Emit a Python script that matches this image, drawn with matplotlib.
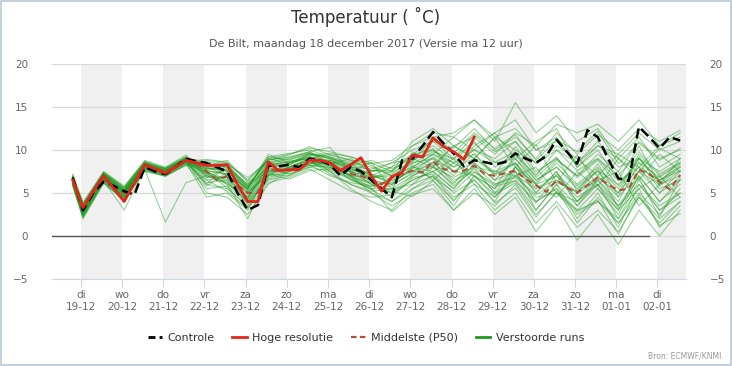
import numpy as np
import matplotlib.pyplot as plt
from matplotlib.lines import Line2D
from matplotlib.patches import Rectangle

# tijden in dagen vanaf 19-12 00:00
dagen = ['di', 'wo', 'do', 'vr', 'za', 'zo', 'ma', 'di', 'wo', 'do', 'vr', 'za', 'zo', 'ma', 'di']
datums = ['19-12', '20-12', '21-12', '22-12', '23-12', '24-12', '25-12', '26-12',
          '27-12', '28-12', '29-12', '30-12', '31-12', '01-01', '02-01']

t6 = [-0.2 + 0.25 * k for k in range(60)]          # 6-uurlijks
t12 = [-0.2] + [0.05 + 0.5 * k for k in range(30)]  # 12-uurlijks (pluim)

hoge_resolutie = [6.5, 3.3, 5.2, 7.0, 5.5, 4.0, 6.2, 8.3, 7.8, 7.3,
                  8.0, 8.8, 8.5, 8.2, 8.2, 8.3, 6.0, 4.0, 4.0, 8.6,
                  7.6, 7.7, 7.7, 8.8, 8.8, 8.5, 7.6, 8.3, 9.1, 7.0,
                  5.2, 6.9, 7.4, 9.4, 9.2, 11.4, 10.4, 9.8, 8.9, 11.5]

controle = [6.8, 3.0, 5.0, 6.3, 5.8, 5.2, 4.8, 8.0, 7.5, 7.2,
            8.0, 9.0, 8.7, 8.5, 8.0, 7.5, 5.0, 3.0, 3.6, 8.2,
            8.1, 8.3, 8.0, 9.0, 8.8, 8.3, 7.0, 8.0, 7.5, 6.5,
            5.5, 4.5, 8.8, 9.0, 10.5, 12.1, 10.8, 9.6, 8.1, 8.8,
            8.6, 8.3, 8.6, 9.6, 9.0, 8.5, 9.3, 11.2, 9.8, 8.4,
            12.3, 11.5, 9.0, 6.7, 6.4, 12.7, 11.5, 10.2, 11.5, 11.1]

p50 = [6.5, 3.0, 5.0, 6.8, 5.5, 5.0, 6.0, 8.2, 7.8, 7.5,
       8.2, 8.8, 8.5, 7.5, 6.5, 7.0, 6.0, 5.0, 5.0, 7.8,
       7.5, 7.8, 8.0, 8.5, 8.8, 8.4, 7.8, 7.2, 7.0, 6.5,
       6.0, 6.8, 7.2, 7.6, 7.4, 8.7, 7.8, 7.5, 7.6, 8.2,
       7.2, 7.0, 7.3, 7.6, 6.6, 5.9, 5.1, 6.5, 5.6, 5.0,
       5.9, 6.8, 6.0, 5.3, 5.5, 7.7, 7.2, 6.3, 5.4, 7.1]

verstoorde_runs = [
    [6.8, 3.4, 7.2, 5.4, 8.5, 7.8, 9.0, 8.3, 8.0, 6.0, 8.5, 8.9, 9.6, 9.0, 8.2, 7.0, 8.0, 9.5, 11.0, 10.2, 12.5, 10.0, 11.5, 9.0, 12.0, 9.5, 11.8, 10.0, 12.5, 11.0, 12.3],
    [6.2, 2.5, 6.5, 4.6, 7.9, 7.2, 8.6, 6.0, 5.5, 3.5, 6.5, 7.0, 8.0, 7.5, 6.0, 5.0, 4.0, 6.0, 7.0, 4.5, 6.0, 3.0, 5.0, 1.5, 4.0, 1.0, 3.0, 0.5, 4.5, 2.0, 4.0],
    [5.8, 2.0, 6.2, 4.2, 7.6, 7.0, 8.2, 8.8, 8.5, 6.5, 9.0, 9.5, 10.2, 9.8, 9.2, 8.5, 7.5, 10.5, 12.0, 11.5, 13.5, 11.0, 15.5, 12.0, 14.0, 11.0, 12.5, 9.0, 11.5, 8.0, 9.5],
    [7.0, 3.8, 7.5, 5.8, 8.8, 8.0, 9.4, 7.0, 6.2, 4.0, 7.0, 8.0, 9.0, 8.2, 6.5, 5.5, 5.5, 7.0, 8.0, 6.0, 9.0, 7.5, 8.5, 5.0, 7.5, 3.5, 6.5, 4.0, 8.5, 5.5, 6.5],
    [6.4, 3.1, 6.9, 4.8, 8.2, 7.6, 8.9, 5.0, 4.5, 2.5, 6.0, 7.5, 8.8, 8.8, 7.8, 7.2, 6.0, 8.0, 9.5, 8.0, 10.0, 8.5, 9.0, 6.5, 8.0, 5.5, 7.5, 5.0, 9.5, 7.0, 8.5],
    [6.6, 2.8, 7.0, 5.2, 8.0, 7.3, 8.7, 8.0, 7.5, 5.5, 9.5, 8.5, 9.2, 7.5, 5.5, 4.0, 3.0, 5.5, 6.5, 3.5, 7.0, 4.5, 7.5, 3.0, 6.0, 2.0, 5.0, 1.0, 6.0, 3.5, 5.0],
    [6.0, 2.2, 6.4, 3.0, 7.8, 7.0, 8.4, 6.5, 6.8, 4.5, 8.0, 7.2, 8.0, 8.8, 8.0, 7.8, 8.5, 9.0, 8.0, 10.5, 9.0, 11.5, 10.0, 8.5, 10.5, 9.0, 7.0, 9.5, 8.0, 10.5, 12.0],
    [6.9, 3.6, 7.3, 5.6, 8.6, 7.7, 9.1, 7.8, 8.2, 5.8, 8.8, 9.2, 9.8, 8.5, 7.0, 6.0, 5.0, 6.5, 7.5, 5.5, 8.0, 5.0, 6.5, 4.0, 5.5, 3.0, 5.5, 2.5, 7.0, 4.0, 6.0],
    [6.3, 2.6, 6.6, 4.5, 7.7, 7.1, 8.5, 4.5, 5.0, 3.0, 7.5, 8.2, 9.5, 9.2, 8.6, 8.0, 7.0, 8.5, 9.0, 7.0, 10.5, 12.0, 13.5, 10.0, 11.5, 8.0, 10.0, 6.5, 10.5, 6.0, 8.0],
    [6.7, 3.2, 7.1, 5.1, 8.3, 7.5, 8.8, 8.5, 7.0, 5.0, 7.2, 7.0, 8.3, 7.0, 6.2, 5.8, 6.5, 7.5, 8.5, 6.5, 7.5, 6.0, 7.0, 4.5, 5.0, 2.5, 4.0, 2.0, 5.5, 1.0, 3.5],
    [6.1, 2.4, 6.3, 4.0, 7.9, 7.3, 8.6, 7.2, 6.0, 4.5, 8.2, 8.7, 9.0, 9.5, 8.8, 7.5, 8.0, 11.0, 12.5, 10.5, 11.5, 9.5, 12.0, 10.5, 13.0, 12.0, 13.0, 11.0, 13.5, 10.5, 11.5],
    [7.2, 3.9, 7.4, 5.5, 8.4, 7.9, 9.2, 6.8, 7.8, 6.0, 7.5, 7.8, 8.6, 7.8, 6.8, 6.2, 4.5, 6.8, 7.2, 5.0, 6.5, 4.0, 8.0, 6.0, 7.0, 4.5, 6.0, 3.0, 7.5, 5.0, 7.5],
    [6.5, 3.0, 6.8, 4.9, 8.1, 7.4, 8.7, 7.6, 7.2, 4.8, 8.6, 8.0, 9.0, 8.6, 7.5, 6.8, 7.5, 9.5, 10.0, 8.5, 9.5, 7.0, 8.5, 5.5, 7.0, 4.0, 7.0, 4.5, 7.5, 6.0, 7.0],
    [5.9, 2.1, 6.1, 4.3, 7.5, 7.0, 8.3, 5.5, 5.8, 3.8, 6.8, 7.5, 8.2, 8.0, 7.0, 5.0, 3.5, 5.0, 6.0, 3.0, 5.5, 2.5, 4.5, 0.5, 3.5, -0.5, 2.5, -1.0, 3.0, 0.0, 3.0],
    [6.8, 3.5, 7.2, 5.3, 8.5, 7.6, 9.0, 8.6, 8.3, 5.5, 9.2, 9.6, 10.0, 9.2, 8.0, 6.5, 6.0, 8.0, 9.5, 8.5, 10.0, 9.0, 11.0, 7.5, 9.0, 7.0, 9.5, 7.5, 11.0, 9.0, 10.0],
    [6.2, 2.7, 6.6, 4.7, 8.0, 7.2, 8.6, 6.2, 6.5, 4.2, 7.8, 7.2, 8.2, 8.0, 7.0, 6.8, 7.0, 8.0, 7.5, 9.0, 6.0, 4.5, 7.0, 8.0, 5.0, 4.0, 6.5, 7.5, 3.5, 6.0, 9.0],
    [6.6, 3.3, 7.0, 5.0, 8.3, 7.6, 8.9, 7.9, 7.7, 5.2, 7.0, 8.5, 9.4, 9.0, 8.4, 7.0, 6.2, 7.8, 9.0, 7.5, 8.5, 6.5, 9.0, 6.0, 8.5, 6.0, 8.0, 5.5, 9.0, 7.5, 9.0],
    [7.0, 3.6, 7.4, 5.7, 8.6, 7.8, 9.1, 7.4, 6.6, 4.4, 8.3, 8.0, 8.8, 7.2, 6.0, 5.2, 5.5, 6.0, 8.0, 6.8, 8.0, 7.5, 7.0, 5.5, 6.5, 5.0, 6.5, 3.5, 6.0, 3.0, 4.5],
    [6.0, 2.3, 6.4, 4.4, 7.7, 1.6, 6.2, 7.0, 6.8, 4.6, 7.6, 7.6, 8.4, 8.2, 7.6, 6.0, 5.0, 7.0, 8.2, 5.8, 7.8, 5.0, 8.0, 5.0, 7.5, 4.0, 6.0, 3.5, 7.0, 4.0, 6.5],
    [6.4, 2.9, 6.8, 5.0, 8.2, 7.5, 8.8, 8.4, 8.0, 5.6, 9.2, 8.8, 9.6, 9.0, 7.6, 7.5, 8.5, 10.0, 11.0, 9.0, 11.0, 8.0, 9.5, 7.0, 10.0, 8.5, 11.0, 8.0, 9.0, 6.5, 8.0],
    [6.7, 3.1, 7.0, 5.2, 8.4, 7.5, 8.8, 6.5, 5.2, 3.2, 6.2, 6.8, 7.8, 6.5, 5.2, 4.5, 4.8, 6.5, 7.5, 5.5, 8.5, 6.5, 7.5, 4.0, 5.5, 1.5, 4.5, 1.5, 5.0, 2.5, 5.5],
    [6.3, 2.7, 6.7, 4.6, 8.0, 7.3, 8.7, 8.2, 8.8, 6.2, 8.0, 8.3, 9.2, 8.8, 8.2, 8.8, 7.8, 9.0, 9.5, 11.5, 10.0, 12.0, 9.0, 11.0, 12.5, 8.0, 10.5, 9.0, 6.5, 9.5, 7.5],
    [6.9, 3.4, 7.2, 5.4, 8.5, 7.7, 9.0, 7.3, 6.4, 3.8, 6.6, 7.4, 8.6, 8.4, 7.4, 6.4, 6.0, 7.2, 8.6, 6.2, 8.2, 6.0, 6.8, 4.8, 6.2, 5.2, 6.8, 5.0, 8.0, 6.5, 7.6],
    [6.5, 3.0, 6.9, 4.9, 8.1, 7.4, 8.7, 5.8, 7.4, 5.4, 8.4, 8.6, 9.0, 8.0, 6.6, 5.8, 5.8, 7.4, 9.2, 7.6, 7.0, 5.5, 9.5, 6.5, 8.0, 5.8, 7.6, 6.0, 8.6, 6.8, 8.4],
    [6.1, 2.5, 6.5, 4.5, 7.8, 7.1, 8.5, 7.6, 7.2, 5.0, 7.4, 7.8, 8.4, 8.6, 8.0, 7.2, 6.6, 8.2, 6.5, 8.5, 7.0, 5.5, 8.0, 6.0, 4.5, 7.5, 5.5, 3.0, 5.5, 7.0, 4.5],
    [6.8, 3.5, 7.2, 5.3, 8.5, 7.8, 9.0, 7.0, 6.2, 4.0, 7.2, 8.0, 8.8, 8.2, 7.0, 5.6, 2.8, 4.8, 5.5, 3.0, 5.0, 3.5, 6.0, 2.5, 5.0, 3.0, 4.0, 1.5, 4.5, 1.5, 4.0],
    [6.4, 2.8, 6.7, 4.8, 8.1, 7.4, 8.7, 8.9, 8.6, 6.4, 8.8, 9.4, 10.4, 9.4, 8.8, 8.4, 8.8, 10.5, 11.5, 12.0, 13.5, 11.5, 12.5, 10.0, 11.0, 8.5, 10.5, 9.5, 12.0, 10.0, 11.0],
    [6.6, 3.2, 7.0, 5.0, 8.2, 7.5, 8.8, 6.8, 6.8, 4.3, 7.4, 7.8, 8.6, 7.6, 6.6, 5.4, 4.0, 5.5, 7.0, 4.0, 7.0, 4.8, 6.2, 3.0, 6.0, 3.5, 6.0, 2.0, 6.5, 3.0, 5.0],
    [6.2, 2.6, 6.6, 4.6, 7.9, 7.2, 8.6, 7.8, 7.6, 5.8, 8.0, 8.4, 9.2, 8.6, 7.8, 6.8, 7.2, 8.8, 10.0, 8.0, 9.0, 7.2, 8.4, 6.2, 8.8, 7.0, 9.0, 7.0, 9.8, 7.2, 8.6],
    [6.7, 3.3, 7.1, 5.2, 8.3, 7.6, 8.9, 7.8, 7.9, 5.4, 8.2, 8.6, 9.4, 9.6, 9.2, 8.2, 7.0, 8.4, 9.8, 9.0, 11.8, 9.8, 11.0, 8.4, 10.0, 7.6, 9.0, 6.4, 8.0, 5.0, 6.8],
    [6.5, 2.9, 6.9, 4.4, 8.0, 7.3, 8.9, 6.0, 8.3, 6.8, 8.6, 9.0, 9.8, 10.3, 7.4, 8.6, 5.4, 9.8, 8.2, 10.5, 9.0, 11.4, 8.0, 10.6, 6.2, 9.4, 5.8, 9.0, 7.4, 10.2, 9.0],
    [6.0, 2.4, 6.3, 4.1, 7.6, 6.9, 8.3, 7.4, 5.6, 3.4, 7.2, 6.6, 7.6, 7.8, 7.2, 6.2, 5.2, 4.6, 6.4, 4.2, 6.6, 3.8, 5.6, 2.2, 5.2, 2.8, 4.2, 0.2, 4.8, 1.2, 2.6],
    [6.9, 3.7, 7.3, 5.6, 8.7, 7.9, 9.2, 8.0, 7.0, 5.6, 9.0, 8.4, 9.6, 8.4, 9.0, 7.6, 7.4, 8.6, 11.5, 9.6, 12.0, 10.2, 11.8, 8.8, 11.2, 9.8, 12.2, 8.4, 10.8, 8.8, 10.2],
    [6.3, 2.8, 6.7, 4.9, 8.1, 7.4, 8.7, 7.2, 7.6, 5.2, 7.8, 7.9, 8.9, 8.2, 7.4, 7.0, 6.4, 7.6, 6.8, 5.2, 7.4, 5.8, 6.4, 3.8, 7.2, 5.0, 7.8, 3.2, 6.8, 2.2, 6.6],
    [6.6, 3.1, 7.0, 5.1, 8.3, 7.6, 8.8, 7.6, 6.0, 2.0, 7.0, 7.6, 8.4, 8.6, 6.8, 5.4, 6.8, 8.8, 10.2, 7.4, 9.6, 7.2, 10.4, 7.2, 9.2, 5.2, 8.4, 4.6, 9.2, 5.8, 7.6],
    [6.8, 3.3, 7.2, 5.3, 8.4, 7.6, 8.9, 8.2, 8.4, 5.8, 8.9, 9.1, 9.7, 9.1, 8.4, 7.6, 7.6, 9.2, 10.5, 8.8, 10.8, 8.6, 9.8, 6.8, 9.0, 6.8, 8.8, 5.8, 9.0, 6.4, 8.2],
]

nul_t = [-0.7, 13.8]
nul_v = [0, 0]

fig = plt.figure(figsize=(7.32, 3.66), dpi=100)
ax = fig.add_axes([0.071, 0.238, 0.866, 0.587])

# grijze banden voor om-en-om dagen
for d in range(0, 15, 2):
    ax.axvspan(d, d + 1, color='#f0f0f0', lw=0, zorder=0)

for y in [-5, 0, 5, 10, 15, 20]:
    ax.axhline(y, color='#d9d9d9', lw=0.9, zorder=0.5)

ax.plot(nul_t, nul_v, color='#555555', lw=1.0, zorder=1)

for run in verstoorde_runs:
    ax.plot(t12, run, color='#1e9a1e', lw=0.8, alpha=0.45, zorder=2)

ax.plot(t6, p50, color='#b0503a', lw=1.5, ls=(0, (3, 2)), zorder=3)
ax.plot(t6, controle, color='black', lw=1.8, ls=(0, (4, 2)), zorder=4)
ax.plot(t6[:len(hoge_resolutie)], hoge_resolutie, color='#e3261c', lw=2.0, zorder=5)

ax.set_xlim(-0.704, 14.69)
ax.set_ylim(-5, 20)
ax.set_yticks([-5, 0, 5, 10, 15, 20])
ax.set_xticks(range(15))
ax.set_xticklabels([f'{d}\n{dt}' for d, dt in zip(dagen, datums)], color='#666666',
                   fontsize=7.5, linespacing=1.3)
ax.tick_params(axis='x', length=6, color='#ccd6eb', pad=2)
ax.tick_params(axis='y', length=0, labelsize=7.5, labelcolor='#666666', pad=17,
               labelright=True)
for s in ['top', 'left', 'right']:
    ax.spines[s].set_visible(False)
ax.spines['bottom'].set_color('#ccd6eb')
ax.spines['bottom'].set_zorder(0.6)

fig.text(0.5, 0.955, 'Temperatuur ( ˚C)', ha='center', va='center', fontsize=12, color='#333333')
fig.text(0.5, 0.88, 'De Bilt, maandag 18 december 2017 (Versie ma 12 uur)', ha='center',
         va='center', fontsize=8, color='#555555')
fig.text(0.986, 0.028, 'Bron: ECMWF/KNMI', ha='right', va='center', fontsize=5.5, color='#999999')

handles = [Line2D([], [], color='black', lw=2, ls=(0, (2.5, 1.5))),
           Line2D([], [], color='#e3261c', lw=2),
           Line2D([], [], color='#b0503a', lw=1.6, ls=(0, (2.5, 1.5))),
           Line2D([], [], color='#1e9a1e', lw=2)]
fig.legend(handles, ['Controle', 'Hoge resolutie', 'Middelste (P50)', 'Verstoorde runs'],
           loc='center', bbox_to_anchor=(0.5, 0.077), ncol=4, frameon=False,
           fontsize=8, handlelength=1.3, columnspacing=1.6, handletextpad=0.5,
           labelcolor='#333333')

fig.patches.append(Rectangle((0.002, 0.004), 0.996, 0.992, transform=fig.transFigure,
                             fill=False, edgecolor='#b8c8d8', lw=1.2))

fig.savefig('out.png', dpi=100)
